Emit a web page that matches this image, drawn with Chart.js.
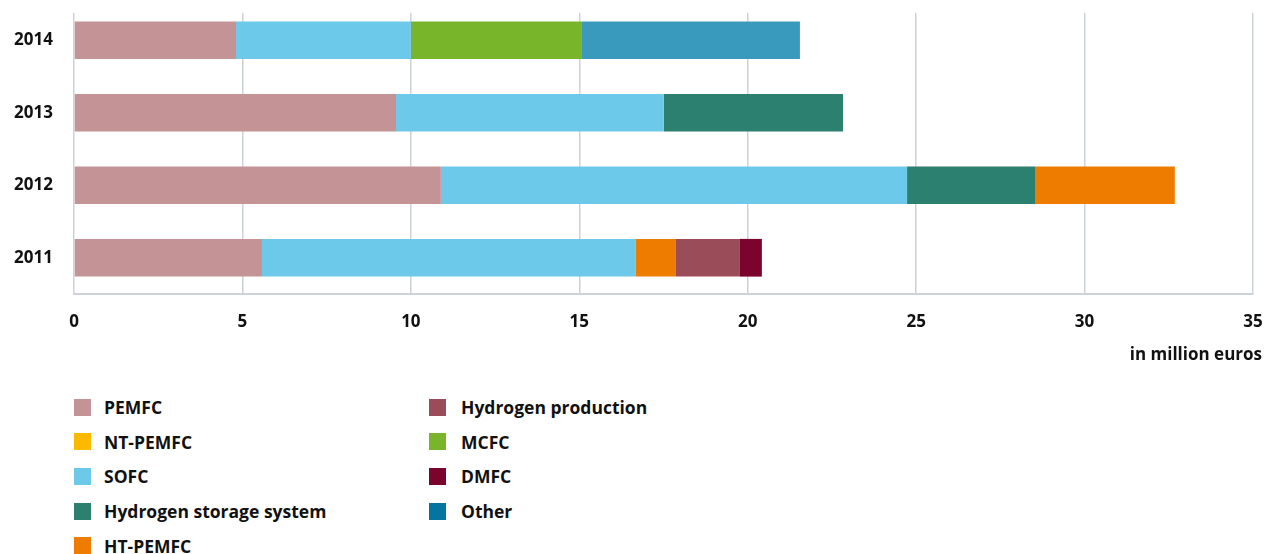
<!DOCTYPE html>
<html>
<head>
<meta charset="utf-8">
<script src="https://cdn.jsdelivr.net/npm/chart.js@4"></script>
<style>
  html, body { margin: 0; padding: 0; background: #fff; }
  body { width: 1273px; height: 554px; position: relative; overflow: hidden; font-family: "Open Sans", sans-serif; }
  #wrap { position: absolute; left: 0; top: 0; width: 1273px; height: 380px; }
  #legend {
    position: absolute; left: 74px; top: 390px;
    display: grid; grid-auto-flow: column;
    grid-template-rows: repeat(5, 34.6px);
    grid-template-columns: 355px 300px;
  }
  .item { display: flex; align-items: center; font-weight: 700; font-size: 17.5px; color: #111; }
  .box { width: 17px; height: 17px; margin-right: 13px; flex: none; }
  .item:nth-child(n+6) .box { margin-right: 15px; }
</style>
</head>
<body>
<div id="wrap"><canvas id="chart"></canvas></div>
<div id="legend"></div>
<script>
const years = ['2014', '2013', '2012', '2011'];
const xTicks = [0, 5, 10, 15, 20, 25, 30, 35];

// funding per technology, million euros, same order as years
const pemfc        = [4.81, 9.56, 10.89, 5.58];
const ntPemfc      = [null, null, null, null];
const sofc         = [5.19, 7.95, 13.84, 11.10];
const h2Storage    = [null, 5.32, 3.80, null];
const htPemfc      = [null, null, 4.15, 1.19];
const h2Production = [null, null, null, 1.90];
const mcfc         = [5.08, null, null, null];
const dmfc         = [null, null, null, 0.65];
const other        = [6.47, null, null, null];

const series = [
    { label: 'PEMFC', data: pemfc, color: '#c49396' },
    { label: 'NT-PEMFC', data: ntPemfc, color: '#fbb900' },
    { label: 'SOFC', data: sofc, color: '#6cc9e9' },
    { label: 'Hydrogen storage system', data: h2Storage, color: '#2c806f' },
    { label: 'HT-PEMFC', data: htPemfc, color: '#ee7c00' },
    { label: 'Hydrogen production', data: h2Production, color: '#9a4c58' },
    { label: 'MCFC', data: mcfc, color: '#78b52a' },
    { label: 'DMFC', data: dmfc, color: '#7a042b' },
    { label: 'Other', data: other, color: '#3a9abd', key: '#06759e' }
];

const gridColor = '#cdd2d9';
const textColor = '#111';
const labelFont = { family: 'Open Sans', size: 17, weight: '700' };

// keeps the top of the grid clear above the first bar, and writes the unit label
const extras = {
    id: 'extras',
    beforeDatasetsDraw(chart) {
        const { ctx, chartArea } = chart;
        ctx.save();
        ctx.fillStyle = '#fff';
        ctx.fillRect(chartArea.left - 2, 0, chartArea.right - chartArea.left + 4, 13);
        ctx.restore();
    },
    afterDraw(chart) {
        const { ctx, chartArea } = chart;
        ctx.save();
        ctx.font = '700 17px "Open Sans"';
        ctx.fillStyle = textColor;
        ctx.textAlign = 'right';
        ctx.textBaseline = 'middle';
        ctx.fillText('in million euros', chartArea.right + 9, 355);
        ctx.restore();
    }
};

const ctx = document.getElementById('chart').getContext('2d');
new Chart(ctx, {
    type: 'bar',
    data: {
        labels: years,
        datasets: series.map(s => ({
            label: s.label,
            data: s.data,
            backgroundColor: s.color,
            borderWidth: 0,
            barPercentage: 0.52,
            categoryPercentage: 1
        }))
    },
    options: {
        indexAxis: 'y',
        responsive: true,
        maintainAspectRatio: false,
        animation: false,
        layout: { padding: { top: 4, right: 20, left: 0, bottom: 0 } },
        plugins: {
            legend: { display: false },
            tooltip: { enabled: false }
        },
        scales: {
            x: {
                stacked: true,
                min: 0,
                max: 35,
                afterBuildTicks: axis => { axis.ticks = xTicks.map(v => ({ value: v })); },
                afterFit: axis => {
                    axis.height = 86;
                    axis.paddingLeft = 0;
                    axis.paddingRight = 0;
                },
                grid: { color: gridColor, lineWidth: 1.5, drawTicks: false },
                border: { display: true, color: gridColor, width: 2 },
                ticks: { padding: 18, color: textColor, font: labelFont }
            },
            y: {
                stacked: true,
                afterFit: axis => {
                    axis.width = 74;
                    axis.paddingTop = 0;
                    axis.paddingBottom = 0;
                },
                grid: { display: false, drawTicks: false },
                border: { display: false },
                ticks: { padding: 21, color: textColor, font: labelFont }
            }
        }
    },
    plugins: [extras]
});

// legend, filled column by column
const legend = document.getElementById('legend');
series.forEach(s => {
    const item = document.createElement('div');
    item.className = 'item';
    const box = document.createElement('span');
    box.className = 'box';
    box.style.background = s.key || s.color;
    item.appendChild(box);
    item.appendChild(document.createTextNode(s.label));
    legend.appendChild(item);
});
</script>
</body>
</html>
